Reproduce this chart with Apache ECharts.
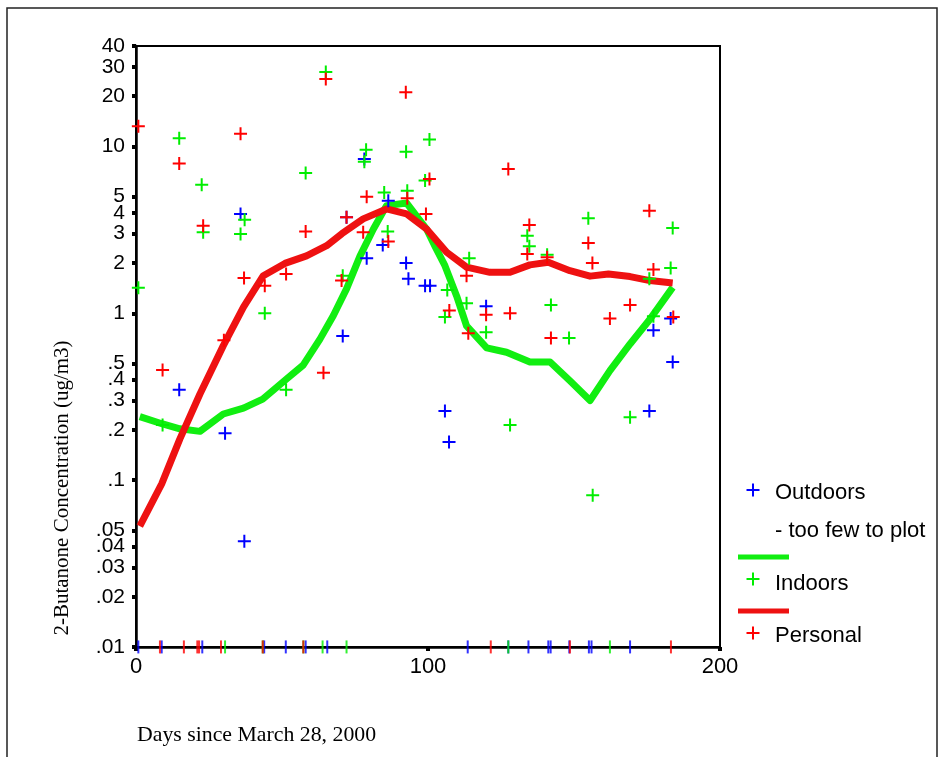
<!DOCTYPE html>
<html>
<head>
<meta charset="utf-8">
<script src="https://cdn.jsdelivr.net/npm/echarts@6/dist/echarts.min.js"></script>
<style>html,body{margin:0;padding:0;background:#fff;}#c{width:938px;height:757px;}</style>
</head>
<body>
<div id="c"></div>
<script>
// ---- data ----
const yTickValues = [0.01, 0.02, 0.03, 0.04, 0.05, 0.1, 0.2, 0.3, 0.4, 0.5, 1, 2, 3, 4, 5, 10, 20, 30, 40];
const yTickLabels = ['.01', '.02', '.03', '.04', '.05', '.1', '.2', '.3', '.4', '.5', '1', '2', '3', '4', '5', '10', '20', '30', '40'];
const xTickLabels = ['0', '100', '200'];

const outdoorsPts = [[35.8,3.94],[14.8,0.348],[30.5,0.191],[37.1,0.043],[78.2,8.4],[86.4,4.73],[72.1,3.76],[84.5,2.57],[79,2.14],[92.5,2.0],[93.3,1.61],[99,1.46],[100.7,1.46],[70.8,0.73],[119.9,1.1],[105.8,0.26],[107.2,0.169],[183.1,0.93],[177.2,0.79],[183.8,0.51],[175.8,0.26]];
const indoorsPts = [[0.8,1.42],[9.1,0.214],[14.8,11.2],[22.5,5.9],[23,3.06],[37.2,3.63],[35.8,2.99],[44.1,1.0],[51.4,0.348],[58.1,6.94],[65,27.9],[70.8,1.68],[78.8,9.57],[78.2,8.1],[85,5.3],[86.2,3.09],[92.5,9.3],[92.9,5.43],[100.5,11.0],[99,6.24],[106.6,1.38],[105.8,0.95],[113.2,1.15],[114.1,2.14],[119.9,0.77],[128.1,0.214],[134,2.92],[134.7,2.52],[140.8,2.24],[142.1,1.12],[148.3,0.71],[154.9,3.71],[156.4,0.081],[169.2,0.238],[175.8,1.61],[177.2,0.96],[183.8,3.24],[183.1,1.87]];
const personalPts = [[0.8,13.2],[9.1,0.457],[14.8,7.9],[23,3.35],[30.1,0.69],[35.8,11.9],[37,1.63],[44.1,1.46],[51.4,1.72],[58.1,3.09],[64.2,0.44],[65,25.4],[70.4,1.57],[72.1,3.76],[77.8,3.06],[79,5.0],[86.4,2.69],[92.4,21.1],[92.9,4.89],[99.3,3.94],[100.5,6.39],[107.3,1.04],[113.2,1.68],[113.8,0.76],[119.9,0.98],[127.5,7.33],[128.1,1.0],[134.7,3.38],[134,2.27],[140.8,2.17],[142.1,0.71],[154.9,2.64],[156.3,2.0],[162.3,0.93],[169.2,1.12],[175.8,4.12],[177.2,1.83],[184,0.95]];

const indoorsSmooth = [[1.3,0.24],[9.1,0.217],[15,0.203],[21.9,0.196],[29.9,0.249],[36.8,0.27],[43.4,0.306],[51.6,0.404],[57.3,0.49],[63,0.70],[67.6,0.97],[72.1,1.4],[76.7,2.2],[81.3,3.2],[85.8,4.42],[92.7,4.58],[99.5,3.2],[102.5,2.5],[105.8,1.93],[109.8,1.27],[113.2,0.84],[120.1,0.62],[126.9,0.584],[134.9,0.51],[141.8,0.51],[148.6,0.394],[155.5,0.30],[162.3,0.453],[169.2,0.655],[176,0.92],[183.8,1.43]];
const personalSmooth = [[1.3,0.053],[8.8,0.095],[15,0.176],[21.9,0.328],[29.9,0.64],[36.8,1.09],[43.6,1.68],[51,1.99],[58.4,2.21],[65.3,2.54],[70.5,3.0],[77.8,3.68],[85.8,4.22],[92.7,3.94],[99.5,3.2],[106.4,2.32],[113.2,1.89],[121.2,1.76],[128.1,1.76],[134.9,1.95],[141.2,2.02],[148.6,1.8],[155.5,1.67],[161.8,1.72],[169.2,1.66],[176,1.57],[183.8,1.52]];

// non-detect days (rug along bottom)
const outdoorsND = [0.8, 8.8, 22.7, 43.9, 51.3, 58.1, 65.5, 113.6, 127.5, 134.4, 141.2, 142, 148.4, 155.1, 156, 169.2];
const indoorsND = [30.5, 43.4, 57.3, 63.9, 72.1, 127.5, 162.3];
const personalND = [8.2, 16.4, 21, 21.6, 29.1, 43.4, 57.3, 121.5, 148.6, 183.2];
const ndLevel = 0.01;

// ---- chart ----
const BLUE = '#0000ff', GREEN = '#00ee00', RED = '#ff0000';
const CROSS = 'path://M5.5,0H7.5V5.5H13V7.5H7.5V13H5.5V7.5H0V5.5H5.5Z';
const SANS = '"Liberation Sans", Arial, sans-serif';
const SERIF = '"Liberation Serif", "Times New Roman", serif';

function scatter(name, pts, color) {
  return { name, type: 'scatter', data: pts, symbol: CROSS, symbolSize: 13, clip: false,
    itemStyle: { color, opacity: 1 }, z: 5, silent: true };
}
function rug(name, days, color) {
  return { name, type: 'scatter', data: days.map(d => [d, ndLevel]), symbol: 'rect', symbolSize: [2, 13],
    clip: false, itemStyle: { color }, z: 4, silent: true };
}
function smooth(name, pts, color) {
  return { name, type: 'line', data: pts, showSymbol: false, symbol: 'none', smooth: false, clip: false,
    lineStyle: { color, width: 7, join: 'round', cap: 'butt' }, z: 3, silent: true };
}

const chart = echarts.init(document.getElementById('c'), null, { renderer: 'canvas' });

function legendCross(cx, cy, color) {
  return [
    { type: 'rect', shape: { x: cx - 6.5, y: cy - 1, width: 13, height: 2 }, style: { fill: color } },
    { type: 'rect', shape: { x: cx - 1, y: cy - 6.5, width: 2, height: 13 }, style: { fill: color } }
  ];
}
function legendText(x, y, t) {
  return { type: 'text', x, y, style: { text: t, font: '22px ' + SANS, fill: '#000', align: 'left', verticalAlign: 'middle' } };
}

const graphics = [
  { type: 'rect', shape: { x: 7, y: 8, width: 930, height: 800 }, style: { fill: null, stroke: '#222', lineWidth: 1.5 }, z: -1 },
  { type: 'text', x: 62, y: 488, rotation: Math.PI / 2,
    style: { text: '2-Butanone Concentration (ug/m3)', font: '21px ' + SERIF, fill: '#000', align: 'center', verticalAlign: 'middle' } },
  { type: 'text', x: 137, y: 735,
    style: { text: 'Days since March 28, 2000', font: '21.8px ' + SERIF, fill: '#000', align: 'left', verticalAlign: 'middle' } },
  ...legendCross(753, 490, BLUE),
  legendText(775, 493, 'Outdoors'),
  legendText(775, 531, '- too few to plot'),
  { type: 'rect', shape: { x: 738, y: 554.5, width: 51, height: 5 }, style: { fill: '#11ee11' } },
  ...legendCross(753, 579, GREEN),
  legendText(775, 584, 'Indoors'),
  { type: 'rect', shape: { x: 738, y: 608.5, width: 51, height: 5 }, style: { fill: '#ee1111' } },
  ...legendCross(753, 633, RED),
  legendText(775, 636, 'Personal')
];

chart.setOption({
  animation: false,
  backgroundColor: '#fff',
  grid: { left: 136, top: 46, width: 584, height: 601, show: true, borderColor: '#000', borderWidth: 2, backgroundColor: 'transparent' },
  xAxis: {
    type: 'value', min: 0, max: 200, interval: 100,
    axisLine: { show: true, lineStyle: { color: '#000', width: 2.5 } },
    axisTick: { show: true, length: 4, lineStyle: { color: '#000', width: 4 } },
    splitLine: { show: false },
    axisLabel: { color: '#000', fontSize: 22, fontFamily: SANS, margin: 9,
      formatter: v => xTickLabels[Math.round(v / 100)] }
  },
  yAxis: {
    type: 'log', logBase: 10, min: 0.00999, max: 40.01,
    axisLine: { show: true, lineStyle: { color: '#000', width: 2.5 } },
    axisTick: { show: true, length: 4, customValues: yTickValues, lineStyle: { color: '#000', width: 4 } },
    splitLine: { show: false },
    minorTick: { show: false },
    axisLabel: { color: '#000', fontSize: 21, fontFamily: SANS, margin: 11, customValues: yTickValues,
      showMinLabel: true, showMaxLabel: true, hideOverlap: false,
      formatter: v => {
        let best = 0, bd = Infinity;
        yTickValues.forEach((t, i) => { const d = Math.abs(Math.log(t) - Math.log(v)); if (d < bd) { bd = d; best = i; } });
        return yTickLabels[best];
      } }
  },
  series: [
    smooth('Indoors smooth', indoorsSmooth, '#11ee11'),
    smooth('Personal smooth', personalSmooth, '#ee1111'),
    rug('Outdoors ND', outdoorsND, BLUE),
    rug('Indoors ND', indoorsND, GREEN),
    rug('Personal ND', personalND, RED),
    scatter('Outdoors', outdoorsPts, BLUE),
    scatter('Indoors', indoorsPts, GREEN),
    scatter('Personal', personalPts, RED)
  ],
  graphic: graphics
});
</script>
</body>
</html>
